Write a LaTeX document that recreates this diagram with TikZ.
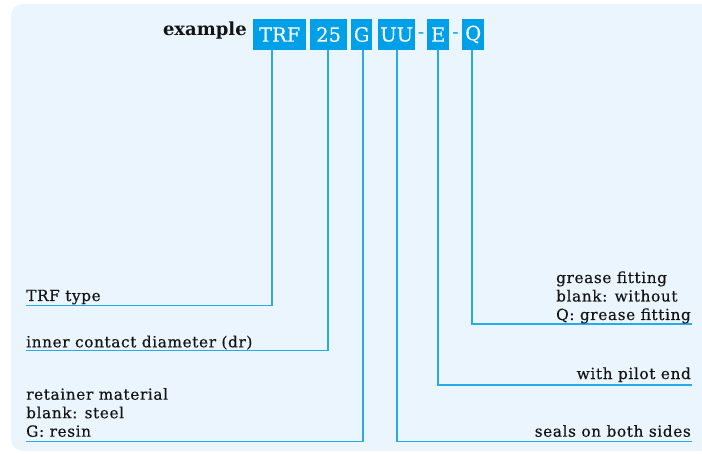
\documentclass[tikz,border=0pt]{standalone}
\usepackage{fontspec}
\setmainfont{DejaVu Serif}
\newfontfamily\lblfont{DejaVu Serif}[LetterSpace=4,FakeBold=0.4]
\newfontfamily\codefont{DejaVu Serif}[FakeBold=0.2]
\begin{document}
\begin{tikzpicture}[x=1pt,y=1pt,
  bg/.style={fill=bgblue,draw=none,rounded corners=12pt},
  codebox/.style={fill=boxblue,text=white,inner sep=0pt,minimum height=31pt,anchor=west,font=\codefont\fontsize{19.5}{19.5}\selectfont},
  sep/.style={text=boxblue,inner sep=0pt,font=\fontsize{19}{19}\selectfont},
  lbl/.style={inner sep=0pt,font=\lblfont\fontsize{15.3}{18.5}\selectfont,text=black!92},
  lead/.style={draw=lineblue,line width=1.5pt}]
\definecolor{bgblue}{HTML}{EAF5FD}
\definecolor{boxblue}{HTML}{00A0E9}
\definecolor{lineblue}{HTML}{29AAE8}
\useasboundingbox (0,0) rectangle (702,453);
\path[bg] (11,2) rectangle (712,449);
% title
\node[inner sep=0pt,anchor=base east,font=\bfseries\fontsize{18}{18}\selectfont,text=black!92] (ex) at (247,417) {example};
% code boxes
\node[codebox,minimum width=53pt] (trf) at (253,418.5) {TRF};
\node[codebox,minimum width=37pt] (n25) at (310,418.5) {25};
\node[codebox,minimum width=21pt] (g) at (351,418.5) {G};
\node[codebox,minimum width=37pt] (uu) at (378,418.5) {UU};
\node[sep] (d1) at (421,417) {-};
\node[codebox,minimum width=22pt] (e) at (427,418.5) {E};
\node[sep] (d2) at (455.5,417) {-};
\node[codebox,minimum width=22pt] (q) at (462,418.5) {Q};
% corner coordinates
\coordinate (c1) at (272,147.3);
\coordinate (l1) at (26,147.3);
\coordinate (c2) at (328,102.3);
\coordinate (l2) at (26,102.3);
\coordinate (c3) at (363,11.3);
\coordinate (l3) at (26,11.3);
\coordinate (c4) at (397,11.3);
\coordinate (r4) at (692,11.3);
\coordinate (c5) at (438,68);
\coordinate (r5) at (692,68);
\coordinate (c6) at (472,129);
\coordinate (r6) at (692,129);
% leaders
\draw[lead] (c1 |- trf.south) -- (c1) -- (l1);
\draw[lead] (c2 |- n25.south) -- (c2) -- (l2);
\draw[lead] (c3 |- g.south) -- (c3) -- (l3);
\draw[lead] (c4 |- uu.south) -- (c4) -- (r4);
\draw[lead] (c5 |- e.south) -- (c5) -- (r5);
\draw[lead] (c6 |- q.south) -- (c6) -- (r6);
% labels
\node[lbl,anchor=base west] (t1) at (26,152) {TRF type};
\node[lbl,anchor=base west] (t2) at (26,105.7) {inner contact diameter (dr)};
\node[lbl,anchor=base west,align=left] (t3) at (26,16.3) {retainer material\\blank: steel\\G: resin};
\node[lbl,anchor=base east] (t4) at (691,16.3) {seals on both sides};
\node[lbl,anchor=base east] (t5) at (691,74) {with pilot end};
\node[lbl,anchor=base east,align=left] (t6) at (691,133) {grease fitting\\blank: without\\Q: grease fitting};
\end{tikzpicture}
\end{document}
